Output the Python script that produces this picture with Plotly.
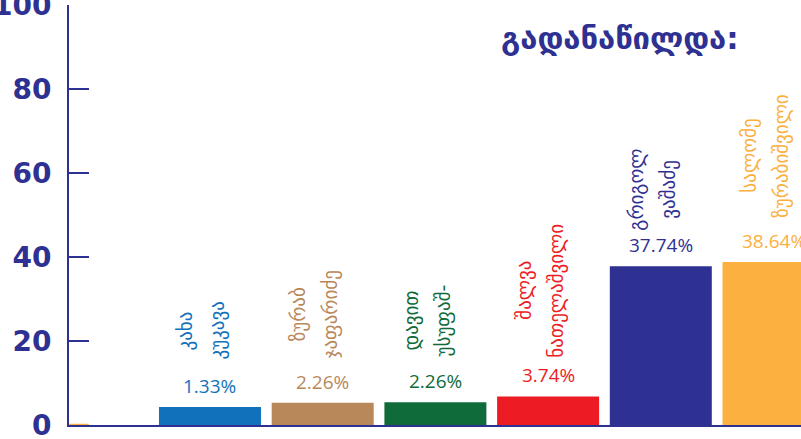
import plotly.graph_objects as go

# ---- data ----
candidates = ["kukava", "japaridze", "usupashvili", "natelashvili", "vashadze", "zurabishvili"]
first_names = ["კახა", "ზურაბ", "დავით", "შალვა", "გრიგოლ", "სალომე"]
last_names = ["კუკავა", "ჯაფარიძე", "უსუფაშ-", "ნათელაშვილი", "ვაშაძე", "ზურაბიშვილი"]
bar_heights = [4.3, 5.3, 5.4, 6.8, 37.8, 38.8]          # heights as drawn
percent_labels = ["1.33%", "2.26%", "2.26%", "3.74%", "37.74%", "38.64%"]
colors = ["#1171BA", "#B8875A", "#0F6B3A", "#ED1C24", "#2E3192", "#FBB040"]
y_ticks = [0, 20, 40, 60, 80, 100]
title_text = "გადანაწილდა:"

NAVY = "#2E3192"

fig = go.Figure()
fig.add_trace(go.Bar(
    x=candidates, y=bar_heights,
    marker=dict(color=colors, line=dict(width=0)),
    hoverinfo="skip",
))

annotations = []
for i, c in enumerate(candidates):
    # percentage labels
    annotations.append(dict(
        x=c, y=bar_heights[i], xref="x", yref="y",
        text=percent_labels[i], showarrow=False,
        yanchor="middle", yshift=21,
        font=dict(family="Open Sans", size=19, color=colors[i]),
    ))
    # rotated names, two lines, centred on the longer line
    longest = max(len(first_names[i]), len(last_names[i]))
    half = longest * 11.8 / 2
    for j, (txt, xs) in enumerate([(first_names[i], -24), (last_names[i], 8)]):
        annotations.append(dict(
            x=c, y=bar_heights[i], xref="x", yref="y",
            text=txt, showarrow=False, textangle=-90,
            xanchor="center", yanchor="middle",
            xshift=xs, yshift=41 + half,
            font=dict(family="DejaVu Sans", size=19, color=colors[i]),
        ))

annotations.append(dict(
    x=0.753, y=0.921, xref="paper", yref="paper",
    text="<b>" + title_text + "</b>", showarrow=False,
    xanchor="center", yanchor="middle",
    font=dict(family="DejaVu Sans", size=31, color=NAVY),
))

fig.update_layout(
    width=801, height=439,
    margin=dict(l=69, r=0, t=5, b=14),
    paper_bgcolor="white", plot_bgcolor="white",
    showlegend=False, bargap=0.095,
    annotations=annotations,
    shapes=[dict(type="line", xref="paper", yref="y", x0=0, x1=0.027, y0=0, y1=0,
                 line=dict(color="#FBB040", width=2.5), layer="above")],
)
fig.update_xaxes(
    range=[-1.251, 5.244], showticklabels=False, ticks="",
    showgrid=False, zeroline=False, automargin=False,
    showline=True, linecolor=NAVY, linewidth=2,
)
fig.update_yaxes(
    range=[0, 100], tickvals=y_ticks, ticktext=[f"<b>{v}</b>" for v in y_ticks],
    ticks="inside", ticklen=20, tickwidth=2, tickcolor=NAVY,
    tickfont=dict(family="DejaVu Sans", size=28, color=NAVY),
    ticklabelstandoff=10, ticklabeloverflow="allow", automargin=False,
    showgrid=False, zeroline=False,
    showline=True, linecolor=NAVY, linewidth=2,
)

fig.write_html("out.html", config={"displayModeBar": False},
               post_script="document.body.style.margin='0';")
